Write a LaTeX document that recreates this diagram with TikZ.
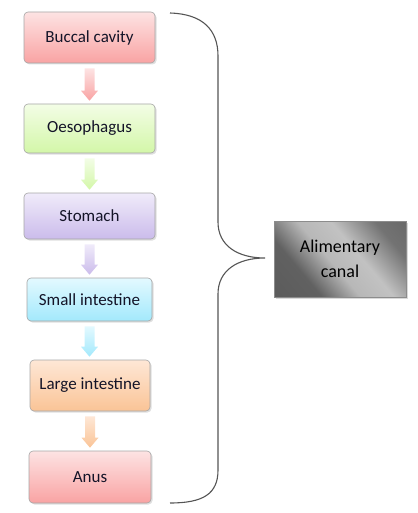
\documentclass[tikz,border=0pt]{standalone}
\usepackage{fontspec}
\setmainfont{Carlito}
\usetikzlibrary{calc,shadows}
\definecolor{bordc}{HTML}{A6A6A6}
\definecolor{txtc}{HTML}{141428}
\definecolor{pinkT}{HTML}{FDE3E3}\definecolor{pinkB}{HTML}{F9A3A3}
\definecolor{grnT}{HTML}{F3FDE6}\definecolor{grnB}{HTML}{D3F7A8}
\definecolor{purT}{HTML}{F0EBFA}\definecolor{purB}{HTML}{CBBCEB}
\definecolor{cyaT}{HTML}{E3F9FF}\definecolor{cyaB}{HTML}{A3E9FC}
\definecolor{orgT}{HTML}{FEE7D6}\definecolor{orgB}{HTML}{FAC496}
\definecolor{braceC}{HTML}{555555}
\pgfdeclarehorizontalshading{metal}{100bp}{color(0bp)=(black!66); color(32bp)=(black!62); color(46bp)=(black!28); color(58bp)=(black!24); color(74bp)=(black!55); color(100bp)=(black!64)}
\tikzset{
  organ/.style={draw=bordc, line width=0.6pt, rounded corners=4pt, text=txtc,
    font=\fontsize{17}{20}\selectfont, inner sep=0pt,
    drop shadow={shadow xshift=1.5pt, shadow yshift=-1.5pt, opacity=0.25}},
  canal/.style={draw=black!45, line width=0.6pt, shading=metal, shading angle=40, text=black,
    font=\fontsize{18}{25}\selectfont, align=center, inner sep=0pt,
    drop shadow={shadow xshift=1.5pt, shadow yshift=-1.5pt, opacity=0.3}},
  bracestyle/.style={draw=braceC, line width=1.1pt}
}
\newcommand\blockarr[4]{%
  \path[top color=#3, bottom color=#4] let \p1=(#1.south), \p2=(#2.north) in
    (\x1-5pt,\y1-5pt) -- (\x1+5pt,\y1-5pt) -- (\x1+5pt,\y2+13pt) -- (\x1+8.5pt,\y2+13pt)
    -- (\x1,\y2+3pt) -- (\x1-8.5pt,\y2+13pt) -- (\x1-5pt,\y2+13pt) -- cycle;}
\begin{document}
\begin{tikzpicture}[x=1pt,y=-1pt]
\useasboundingbox (0,0) rectangle (417,513);
\node[organ, top color=pinkT, bottom color=pinkB, minimum width=131, minimum height=51] (b1) at (89.5,37.5) {Buccal cavity};
\node[organ, top color=grnT, bottom color=grnB, minimum width=131, minimum height=49] (b2) at (89.5,128.5) {Oesophagus};
\node[organ, top color=purT, bottom color=purB, minimum width=131, minimum height=46] (b3) at (89.5,216) {Stomach};
\node[organ, top color=cyaT, bottom color=cyaB, minimum width=125, minimum height=43] (b4) at (89.5,299.5) {Small intestine};
\node[organ, top color=orgT, bottom color=orgB, minimum width=120, minimum height=51] (b5) at (90,385.5) {Large intestine};
\node[organ, top color=pinkT, bottom color=pinkB, minimum width=122, minimum height=52] (b6) at (90,477) {Anus};
\node[canal, minimum width=132, minimum height=76] (ac) at (340,259) {Alimentary\\canal};
\blockarr{b1}{b2}{pinkT}{pinkB}
\blockarr{b2}{b3}{grnT}{grnB}
\blockarr{b3}{b4}{purT}{purB}
\blockarr{b4}{b5}{cyaT}{cyaB}
\blockarr{b5}{b6}{orgT}{orgB}
\coordinate (brtop) at (170,13);
\coordinate (brtip) at (265,258);
\coordinate (brbot) at (170,503);
\draw[bracestyle] (brtop) .. controls (203,14) and (218,30) .. (218,56) -- (218,222)
  .. controls (218,246) and (238,258) .. (brtip)
  .. controls (238,258) and (218,270) .. (218,294) -- (218,470)
  .. controls (218,494) and (203,503) .. (brbot);
\end{tikzpicture}
\end{document}
